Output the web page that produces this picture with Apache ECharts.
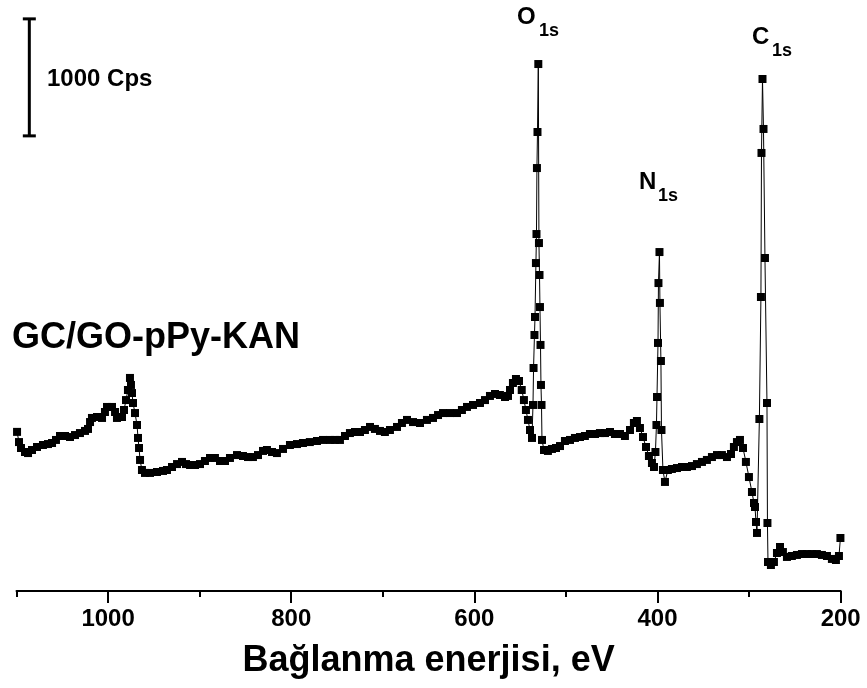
<!DOCTYPE html>
<html>
<head>
<meta charset="utf-8">
<script src="https://cdn.jsdelivr.net/npm/echarts@6/dist/echarts.min.js"></script>
<style>
  html, body { margin: 0; padding: 0; background: #fff; }
  #chart { width: 867px; height: 688px; }
</style>
</head>
<body>
<div id="chart"></div>
<script>
// XPS survey spectrum of GC/GO-pPy-KAN: binding energy (eV) vs. intensity (cps)
const bindingEnergy = [
  1099.4, 1097.3, 1095.1, 1090.7, 1087.4, 1083.1, 1077.6, 1071.1, 1065.6, 1061.2,
  1056.9, 1052.5, 1047.0, 1041.6, 1036.1, 1030.7, 1025.2, 1021.9, 1019.7, 1017.6,
  1012.1, 1006.6, 1003.4, 1001.2, 995.7, 992.4, 990.3, 984.8, 982.6, 980.4,
  978.3, 976.1, 975.0, 973.9, 972.8, 970.6, 968.4, 967.3, 966.2, 965.1,
  963.0, 959.7, 954.2, 946.6, 940.0, 935.7, 930.2, 924.7, 919.3, 914.9,
  910.5, 905.1, 899.6, 894.2, 888.7, 883.3, 877.8, 872.3, 866.9, 859.2,
  852.7, 847.2, 841.8, 836.3, 830.8, 826.5, 821.0, 815.6, 809.0, 801.4,
  793.7, 787.2, 779.7, 771.9, 765.3, 757.7, 752.2, 746.8, 741.3, 735.9,
  730.4, 724.9, 719.5, 714.0, 708.6, 703.1, 697.7, 692.2, 684.5, 679.1,
  673.6, 667.0, 659.4, 651.8, 645.2, 639.7, 634.3, 626.6, 619.0, 613.6,
  608.1, 601.5, 593.9, 588.4, 583.0, 577.5, 572.1, 566.6, 563.3, 561.1,
  557.9, 554.6, 551.3, 548.3, 545.9, 543.7, 541.5, 539.3, 537.1,
  // O 1s
  536.0, 535.4, 534.4, 533.8, 532.8, 532.2, 531.7, 531.1, 530.2, 529.5,
  528.9, 528.4, 527.8, 527.3, 526.7, 526.2, 524.0,
  519.7, 515.3, 510.9, 506.5, 501.1, 495.6, 490.2, 484.7, 479.3, 473.8,
  468.3, 462.9, 457.4, 451.9, 446.5, 441.0, 435.6, 430.1, 425.8, 422.5,
  419.2, 415.9, 412.6, 409.4, 406.1, 403.9,
  // N 1s
  402.3, 401.2, 400.6, 399.5, 399.0, 397.9, 397.4, 396.3, 395.7, 394.1,
  391.9, 388.7,
  384.3, 378.8, 373.3, 367.9, 362.4, 357.0, 351.5, 346.1, 340.6, 335.1,
  329.7, 324.2, 319.8, 316.6, 313.3, 310.0, 306.7, 303.5, 300.2, 296.9,
  294.7,
  // C 1s
  293.6, 292.5, 291.4, 288.8, 287.1, 286.5, 285.4, 284.3, 282.7, 280.5,
  280.0, 279.4,
  276.2, 272.9, 269.6, 266.3, 263.1, 258.7, 253.3, 247.8, 242.3, 236.9,
  231.4, 226.0, 220.5, 215.0, 209.6, 205.2, 201.9, 200.3
];

const counts = [
  1360, 1273, 1222, 1188, 1179, 1205, 1231, 1248, 1256, 1265,
  1291, 1325, 1325, 1316, 1333, 1350, 1368, 1385, 1444, 1479,
  1487, 1479, 1530, 1573, 1573, 1530, 1479, 1487, 1547, 1632,
  1718, 1821, 1761, 1692, 1607, 1521, 1419, 1308, 1222, 1120,
  1034, 1009, 1009, 1017, 1026, 1034, 1060, 1085, 1103, 1085,
  1077, 1077, 1085, 1111, 1137, 1137, 1111, 1111, 1137, 1162,
  1154, 1145, 1145, 1162, 1197, 1205, 1188, 1179, 1214, 1248,
  1256, 1265, 1273, 1282, 1291, 1291, 1291, 1291, 1325, 1350,
  1359, 1359, 1376, 1402, 1385, 1368, 1359, 1376, 1402, 1436,
  1462, 1444, 1436, 1462, 1479, 1504, 1521, 1521, 1521, 1547,
  1573, 1590, 1607, 1632, 1667, 1684, 1675, 1658, 1667, 1718,
  1778, 1812, 1795, 1718, 1632, 1547, 1462, 1376, 1308,
  // O 1s
  1590, 1906, 2188, 2342, 2803, 3051, 3615, 3923, 4504, 2974,
  2701, 2427, 2103, 1761, 1590, 1291, 1205,
  1197, 1214, 1222, 1239, 1282, 1291, 1308, 1316, 1325, 1342,
  1342, 1350, 1350, 1359, 1342, 1342, 1325, 1376, 1436, 1453,
  1393, 1316, 1231, 1154, 1094, 1060,
  // N 1s
  1188, 1419, 1658, 2120, 2632, 2897, 2462, 1966, 1376, 1034,
  932, 1034,
  1043, 1051, 1060, 1060, 1068, 1085, 1103, 1120, 1145, 1162,
  1162, 1145, 1171, 1231, 1273, 1291, 1222, 1103, 974, 846,
  752,
  // C 1s
  718, 590, 496, 1470, 2513, 3744, 4376, 3949, 2846, 1607,
  581, 248,
  222, 248, 325, 376, 333, 291, 299, 308, 316, 316,
  316, 316, 308, 299, 274, 265, 299, 453
];

// axis ticks (eV)
const majorTicks = [1000, 800, 600, 400, 200];
const minorTicks = [1100, 900, 700, 500, 300];

// 1000 cps intensity scale bar: [energy position, lower cps, upper cps]
const scaleBar = [[1086, 3890, 4890]];

// peak assignments: element letter + subshell subscript
const peakLabels = [
  { el: 'O', sub: '1s', left: 517, top: 5, subLeft: 539, subTop: 22 },
  { el: 'N', sub: '1s', left: 639, top: 170, subLeft: 658, subTop: 187 },
  { el: 'C', sub: '1s', left: 752, top: 25, subLeft: 772, subTop: 42 }
];

const spectrum = bindingEnergy.map((e, i) => [e, counts[i]]);

const FONT = '"Liberation Sans", Arial, sans-serif';
const chart = echarts.init(document.getElementById('chart'));

const axisCommon = {
  type: 'value',
  position: 'bottom',
  inverse: true,
  min: 200,
  max: 1100,
  interval: 100,
  splitLine: { show: false }
};

const labelGraphics = [];
peakLabels.forEach(p => {
  labelGraphics.push({
    type: 'text', left: p.left, top: p.top,
    style: { text: p.el, fill: '#000', font: 'bold 24px ' + FONT }
  });
  labelGraphics.push({
    type: 'text', left: p.subLeft, top: p.subTop,
    style: { text: p.sub, fill: '#000', font: 'bold 18px ' + FONT }
  });
});

chart.setOption({
  animation: false,
  backgroundColor: '#fff',
  grid: { left: 16.5, right: 26.3, top: 6, bottom: 97, containLabel: false },
  xAxis: [
    Object.assign({}, axisCommon, {
      axisLine: { show: true, lineStyle: { color: '#000', width: 2 } },
      axisTick: {
        show: true, inside: false, length: 12,
        lineStyle: { color: '#000', width: 2 },
        customValues: majorTicks
      },
      axisLabel: {
        show: true, margin: 16, color: '#000',
        fontFamily: FONT, fontWeight: 'bold', fontSize: 24,
        formatter: v => String(v),
        customValues: majorTicks
      },
      name: 'Bağlanma enerjisi, eV',
      nameLocation: 'middle',
      nameGap: 52,
      nameTextStyle: { color: '#000', fontFamily: FONT, fontWeight: 'bold', fontSize: 36 }
    }),
    Object.assign({}, axisCommon, {
      axisLine: { show: false },
      axisTick: {
        show: true, inside: false, length: 6,
        lineStyle: { color: '#000', width: 2 },
        customValues: minorTicks
      },
      axisLabel: { show: false }
    })
  ],
  yAxis: {
    type: 'value', min: 0, max: 5000, show: false
  },
  series: [
    {
      type: 'line',
      data: spectrum,
      symbol: 'rect',
      symbolSize: 8,
      showAllSymbol: true,
      lineStyle: { color: '#000', width: 1 },
      itemStyle: { color: '#000' },
      z: 3
    },
    {
      type: 'custom',
      data: scaleBar,
      clip: false,
      renderItem: function (params, api) {
        const lo = api.coord([api.value(0), api.value(1)]);
        const hi = api.coord([api.value(0), api.value(2)]);
        const half = 6.5;
        const style = { stroke: '#000', lineWidth: 3 };
        return {
          type: 'group',
          children: [
            { type: 'line', shape: { x1: lo[0], y1: lo[1], x2: hi[0], y2: hi[1] }, style: style },
            { type: 'line', shape: { x1: hi[0] - half, y1: hi[1], x2: hi[0] + half, y2: hi[1] }, style: style },
            { type: 'line', shape: { x1: lo[0] - half, y1: lo[1], x2: lo[0] + half, y2: lo[1] }, style: style }
          ]
        };
      }
    }
  ],
  graphic: [
    {
      type: 'text', left: 47, top: 67,
      style: { text: '1000 Cps', fill: '#000', font: 'bold 24px ' + FONT }
    },
    {
      type: 'text', left: 12, top: 320,
      style: { text: 'GC/GO-pPy-KAN', fill: '#000', font: 'bold 36px ' + FONT }
    }
  ].concat(labelGraphics)
});
</script>
</body>
</html>
